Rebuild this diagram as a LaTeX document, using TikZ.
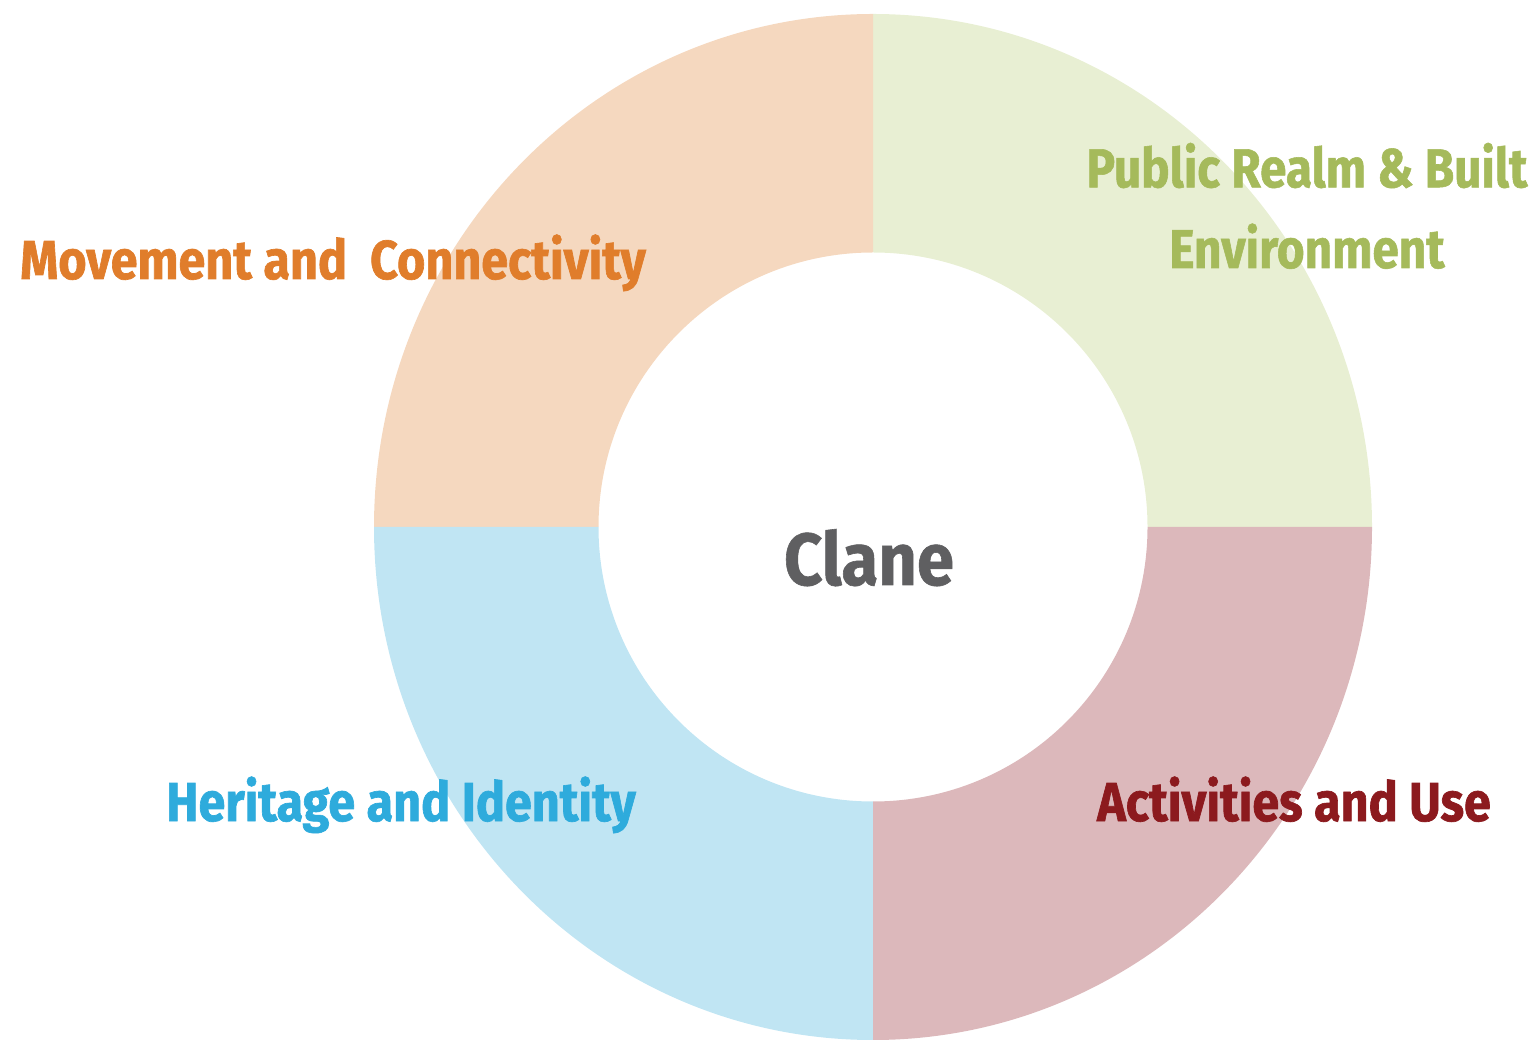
\documentclass[tikz,border=0pt]{standalone}
\usepackage{fontspec}
\setmainfont{Fira Sans}
\newfontfamily\condfont[FakeStretch=0.885,FakeBold=1.2]{Fira Sans}
\newfontfamily\semifont[FakeStretch=0.87,FakeBold=1.0]{Fira Sans}
\newfontfamily\titlefont[FakeStretch=0.91,FakeBold=0.8]{Fira Sans}
\usetikzlibrary{positioning,calc}

\definecolor{movfill}{HTML}{F5D8BF}
\definecolor{pubfill}{HTML}{E8EFD3}
\definecolor{herfill}{HTML}{C0E5F3}
\definecolor{actfill}{HTML}{DCB8BB}
\definecolor{movtext}{HTML}{E07D2B}
\definecolor{pubtext}{HTML}{A5BA5B}
\definecolor{hertext}{HTML}{2EABDC}
\definecolor{acttext}{HTML}{8C1A1E}
\definecolor{clanetext}{HTML}{5F5F61}

\begin{document}
\begin{tikzpicture}[
    x=1bp, y=1bp,
    label/.style={font=\condfont\bfseries\fontsize{55}{66}\selectfont, anchor=base, inner sep=0pt},
    plabel/.style={font=\semifont\bfseries\fontsize{55}{81}\selectfont, anchor=base, inner sep=0pt, align=center}
]
\useasboundingbox (0,0) rectangle (1531,1039);
\coordinate (c) at (873,512);

% quadrants of the ring
\fill[pubfill] ($(c)+(499,0)$) arc[start angle=0, end angle=90, x radius=499, y radius=513]
    -- ($(c)+(0,274.5)$) arc[start angle=90, end angle=0, radius=274.5] -- cycle;
\fill[movfill] ($(c)+(0,513)$) arc[start angle=90, end angle=180, x radius=499, y radius=513]
    -- ($(c)+(-274.5,0)$) arc[start angle=180, end angle=90, radius=274.5] -- cycle;
\fill[herfill] ($(c)+(-499,0)$) arc[start angle=180, end angle=270, x radius=499, y radius=513]
    -- ($(c)+(0,-274.5)$) arc[start angle=270, end angle=180, radius=274.5] -- cycle;
\fill[actfill] ($(c)+(0,-513)$) arc[start angle=270, end angle=360, x radius=499, y radius=513]
    -- ($(c)+(274.5,0)$) arc[start angle=360, end angle=270, radius=274.5] -- cycle;

% labels
\node[label, text=movtext] (movlbl) at (333,760) {Movement and \ Connectivity};
\node[plabel, text=pubtext] (publbl) at (1307,771) {Public Realm \& Built\\Environment};
\node[label, text=hertext] (herlbl) at (401,218) {Heritage and Identity};
\node[label, text=acttext] (actlbl) at (1294,218) {Activities and Use};
\node[font=\titlefont\bfseries\fontsize{74}{80}\selectfont, text=clanetext, anchor=base, inner sep=0pt] (clane) at (869,454) {Clane};
\end{tikzpicture}
\end{document}
